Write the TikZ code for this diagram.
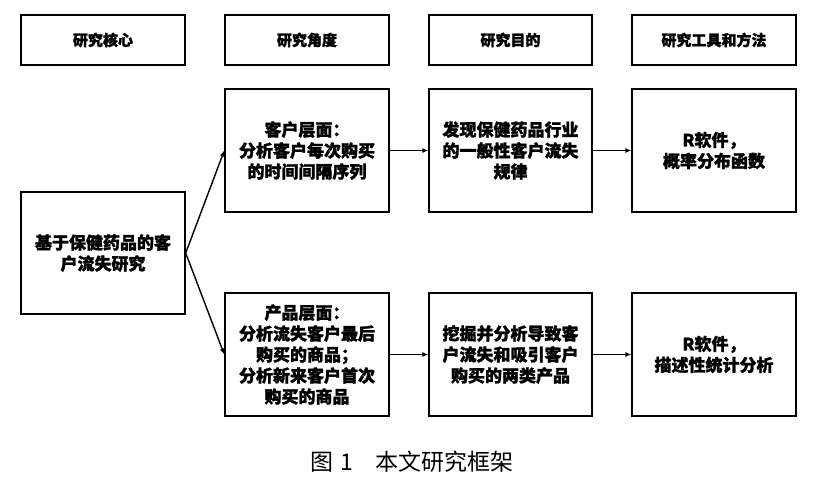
\documentclass[tikz,border=0pt]{standalone}
\usepackage{fontspec}
\newfontfamily\cjk{Noto Sans CJK SC}
\newfontfamily\cjkh{Noto Sans CJK SC}[BoldFeatures={FakeBold=1.5}]
\usetikzlibrary{arrows.meta}
\tikzset{
  box/.style={draw, line width=1.4pt, align=center, inner sep=0pt,
    minimum width=164pt, minimum height=123pt,
    font=\cjkh\bfseries\fontsize{17}{21}\selectfont},
  headbox/.style={box, minimum height=50pt, font=\cjkh\bfseries\fontsize{15}{18}\selectfont},
  conn/.style={line width=1.4pt, -{Latex[length=6pt,width=5pt]}},
}
\begin{document}
\begin{tikzpicture}[x=1pt,y=-1pt]
\useasboundingbox (0,0) rectangle (829,499);
% headers
\node[headbox] (h1) at (103,40) {研究核心};
\node[headbox] (h2) at (307,40) {研究角度};
\node[headbox, minimum width=163pt] (h3) at (510.5,40) {研究目的};
\node[headbox] (h4) at (714,40) {研究工具和方法};
% core
\node[box, minimum height=122pt] (core) at (103,253) {基于保健药品的客\\户流失研究};
% upper row
\node[box] (a2) at (307,150.5) {客户层面：\\分析客户每次购买\\的时间间隔序列};
\node[box, minimum width=163pt] (a3) at (510.5,150.5) {发现保健药品行业\\的一般性客户流失\\规律};
\node[box] (a4) at (714,150.5) {R软件，\\概率分布函数};
% lower row
\node[box] (b2) at (307,354.5) {产品层面：\\分析流失客户最后\\购买的商品；\\分析新来客户首次\\购买的商品};
\node[box, minimum width=163pt] (b3) at (510.5,354.5) {挖掘并分析导致客\\户流失和吸引客户\\购买的两类产品};
\node[box] (b4) at (714,354.5) {R软件，\\描述性统计分析};
% connectors
\draw[conn] (core.east) -- (a2.west);
\draw[conn] (core.east) -- (b2.west);
\draw[conn] (a2) -- (a3);
\draw[conn] (a3) -- (a4);
\draw[conn] (b2) -- (b3);
\draw[conn] (b3) -- (b4);
% caption
\node[font=\cjk\fontsize{23}{26}\selectfont, inner sep=0pt] (cap) at (412,462) {图\hspace{7pt}1\hspace{22pt}本文研究框架};
\end{tikzpicture}
\end{document}
